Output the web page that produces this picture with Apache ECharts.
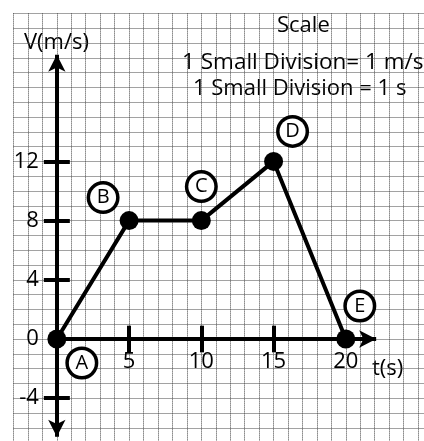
<!DOCTYPE html>
<html>
<head>
<meta charset="utf-8">
<script src="https://cdn.jsdelivr.net/npm/echarts@6/dist/echarts.min.js"></script>
<style>
  html, body { margin: 0; padding: 0; background: #fff; }
  #chart { width: 424px; height: 441px; }
</style>
</head>
<body>
<div id="chart"></div>
<script>
// velocity-time graph data
var timeValues = [0, 5, 10, 15, 20];
var velocityValues = [0, 8, 8, 12, 0];
var pointLetters = ['A', 'B', 'C', 'D', 'E'];
var xTickLabels = [5, 10, 15, 20];
var yTickLabels = [-4, 0, 4, 8, 12];
var xMarkTicks = [5, 10, 15];
var yMarkTicks = [-4, 4, 8, 12];

// where the letter circles sit relative to each point (px)
var letterOffsets = [[25, 24], [-26, -23], [0, -34], [19, -30], [14, -33]];

var FONT = 'Open Sans';
var X_MIN = -3, X_MAX = 26, Y_MIN = -7, Y_MAX = 22;
var X_UNIT = 14.45, Y_UNIT = 14.8;
var X_ARROW_END = 22.1;
var Y_ARROW_TOP = 19.2;
var Y_ARROW_BOTTOM = -6.6;
var TICK_HALF = 0.9;

window.onload = function () {
	var chart = echarts.init(document.getElementById('chart'));

	var points = timeValues.map(function (t, i) {
		return {
			value: [t, velocityValues[i]],
			label: { offset: letterOffsets[i] }
		};
	});

	var tickLines = [];
	yMarkTicks.forEach(function (v) {
		tickLines.push([{ coord: [-TICK_HALF, v] }, { coord: [TICK_HALF, v] }]);
	});
	xMarkTicks.forEach(function (v) {
		tickLines.push([{ coord: [v, -TICK_HALF] }, { coord: [v, TICK_HALF] }]);
	});

	var gridLine = { show: true, lineStyle: { color: '#444', type: 'dotted', width: 1 } };

	var option = {
		animation: false,
		backgroundColor: '#fff',
		grid: {
			left: 13.5,
			right: -8.5,
			top: 13.4,
			bottom: -1.6,
			containLabel: false,
			outerBoundsMode: 'none'
		},
		xAxis: {
			type: 'value',
			min: X_MIN,
			max: X_MAX,
			interval: 1,
			position: 'bottom',
			// move the labels up onto the v = 0 line
			offset: Y_MIN * Y_UNIT,
			axisLine: { show: false, onZero: false },
			axisTick: { show: false },
			splitLine: gridLine,
			axisLabel: {
				show: true,
				margin: 12,
				color: '#000',
				fontFamily: FONT,
				fontSize: 22,
				formatter: function (v) {
					return xTickLabels.indexOf(v) >= 0 ? String(v) : '';
				}
			}
		},
		yAxis: {
			type: 'value',
			min: Y_MIN,
			max: Y_MAX,
			interval: 1,
			position: 'left',
			offset: X_MIN * X_UNIT,
			axisLine: { show: false, onZero: false },
			axisTick: { show: false },
			splitLine: gridLine,
			axisLabel: {
				show: true,
				margin: 18,
				color: '#000',
				fontFamily: FONT,
				fontSize: 22,
				formatter: function (v) {
					return yTickLabels.indexOf(v) >= 0 ? String(v) : '';
				}
			}
		},
		graphic: [
			{ type: 'text', left: 24, top: 32, style: { text: 'V(m/s)', font: '22px "Open Sans"', fill: '#000' } },
			{ type: 'text', left: 277, top: 15, style: { text: 'Scale', font: '22px "Open Sans"', fill: '#000' } },
			{ type: 'text', left: 182, top: 51, style: { text: '1 Small Division= 1 m/s', font: '22.5px "Open Sans"', fill: '#000' } },
			{ type: 'text', left: 193, top: 78, style: { text: '1 Small Division = 1 s', font: '22px "Open Sans"', fill: '#000' } },
			{ type: 'text', left: 372, top: 358, style: { text: 't(s)', font: '22px "Open Sans"', fill: '#000' } }
		],
		series: [
			{
				// thick axes with arrows and crossing ticks
				type: 'line',
				data: [],
				silent: true,
				z: 3,
				markLine: {
					silent: true,
					animation: false,
					symbol: 'none',
					label: { show: false },
					lineStyle: { color: '#000', width: 4, type: 'solid' },
					emphasis: { disabled: true },
					data: [
						[{ coord: [0, 0], symbol: 'none' }, { coord: [X_ARROW_END, 0], symbol: 'arrow', symbolSize: [13, 17] }],
						[{ coord: [0, Y_ARROW_BOTTOM], symbol: 'arrow', symbolSize: [13, 17] }, { coord: [0, Y_ARROW_TOP], symbol: 'arrow', symbolSize: [13, 17] }]
					].concat(tickLines)
				}
			},
			{
				name: 'velocity',
				type: 'line',
				z: 5,
				data: points,
				symbol: 'circle',
				symbolSize: 19,
				lineStyle: { color: '#000', width: 4 },
				itemStyle: { color: '#000' },
				label: {
					show: true,
					position: 'inside',
					formatter: function (p) { return pointLetters[p.dataIndex]; },
					color: '#000',
					fontFamily: FONT,
					fontSize: 20,
					width: 26,
					height: 26,
					lineHeight: 26,
					align: 'center',
					verticalAlign: 'middle',
					backgroundColor: '#fff',
					borderColor: '#000',
					borderWidth: 3.5,
					borderRadius: 16
				}
			}
		]
	};

	chart.setOption(option);
};
</script>
</body>
</html>
